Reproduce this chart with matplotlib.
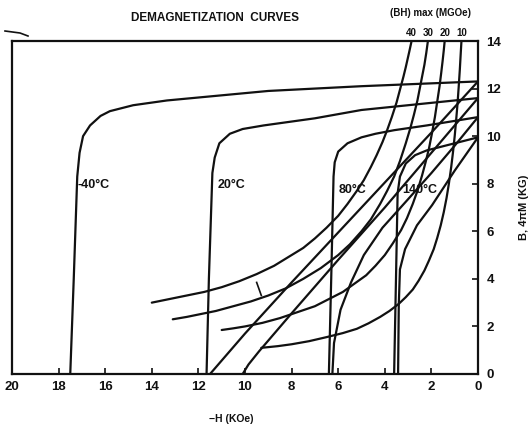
import matplotlib
matplotlib.use('Agg')
import matplotlib.pyplot as plt
from matplotlib.lines import Line2D

# -H (kOe) and B / 4piM (kG)

# intrinsic 4piM curves
m_m40_h = [17.5, 17.35, 17.2, 17.1, 16.95, 16.65, 16.2, 15.8, 14.8, 13.35, 9.0, 5.0, 0.0]
m_m40_b = [0.0, 4.0, 8.3, 9.3, 10.0, 10.45, 10.85, 11.05, 11.3, 11.5, 11.9, 12.1, 12.3]
m_20_h = [11.65, 11.55, 11.4, 11.3, 11.1, 10.65, 10.1, 9.2, 7.0, 5.0, 2.5, 0.0]
m_20_b = [0.0, 4.0, 8.45, 9.1, 9.7, 10.1, 10.3, 10.45, 10.75, 11.1, 11.35, 11.6]
m_80_h = [6.4, 6.3, 6.2, 6.15, 6.0, 5.6, 5.0, 4.4, 3.6, 2.2, 0.0]
m_80_b = [0.0, 4.0, 8.3, 8.9, 9.35, 9.7, 9.95, 10.1, 10.25, 10.45, 10.8]
m_140_h = [3.6, 3.52, 3.45, 3.35, 3.1, 2.7, 2.2, 1.2, 0.0]
m_140_b = [0.0, 4.0, 7.6, 8.3, 8.85, 9.2, 9.4, 9.65, 9.95]

# normal B curves
b_m40_h = [11.5, 10.0, 8.0, 6.0, 4.0, 2.0, 0.0]
b_m40_b = [0.0, 1.7, 3.85, 5.95, 8.05, 10.15, 12.3]
b_20_h = [10.1, 9.85, 9.4, 8.0, 6.0, 4.0, 2.0, 0.0]
b_20_b = [0.0, 0.4, 0.95, 2.55, 4.8, 7.0, 9.3, 11.6]
b_80_h = [6.25, 6.18, 5.9, 5.45, 4.9, 4.1, 3.0, 2.0, 1.0, 0.0]
b_80_b = [0.0, 1.3, 2.7, 3.85, 5.0, 6.15, 7.35, 8.45, 9.6, 10.8]
b_140_h = [3.43, 3.4, 3.35, 3.13, 2.62, 1.97, 1.0, 0.0]
b_140_b = [0.0, 2.9, 4.4, 5.25, 6.25, 7.1, 8.55, 9.95]

# (BH)max lines
bh40_h = [14.0, 13.25, 12.5, 11.75, 11.0, 10.25, 9.5, 8.75, 8.0, 7.5, 7.0, 6.5, 6.0, 5.6,
          5.2, 4.9, 4.6, 4.35, 4.1, 3.9, 3.7, 3.5, 3.35, 3.2, 3.1, 2.95, 2.85]
bh40_b = [3.0, 3.15, 3.3, 3.45, 3.65, 3.9, 4.2, 4.55, 5.0, 5.3, 5.7, 6.15, 6.65, 7.15,
          7.7, 8.15, 8.7, 9.2, 9.75, 10.25, 10.8, 11.4, 11.95, 12.5, 12.9, 13.55, 14.0]
bh30_h = [13.1, 12.5, 12.0, 11.25, 10.5, 9.75, 9.0, 8.25, 7.5, 6.75, 6.0, 5.5, 5.0, 4.6,
          4.2, 3.9, 3.6, 3.35, 3.1, 2.9, 2.75, 2.6, 2.5, 2.4, 2.3, 2.22, 2.15]
bh30_b = [2.3, 2.4, 2.5, 2.65, 2.85, 3.05, 3.3, 3.6, 4.0, 4.45, 5.0, 5.45, 6.0, 6.5,
          7.15, 7.7, 8.3, 8.95, 9.7, 10.35, 10.9, 11.5, 12.0, 12.5, 13.0, 13.5, 14.0]
bh20_h = [11.0, 10.5, 10.0, 9.25, 8.5, 7.75, 7.0, 6.4, 5.8, 5.3, 4.8, 4.4, 4.0, 3.65,
          3.3, 3.05, 2.8, 2.6, 2.4, 2.25, 2.1, 1.97, 1.85, 1.75, 1.65, 1.58, 1.52, 1.47, 1.43]
bh20_b = [1.85, 1.92, 2.0, 2.15, 2.35, 2.6, 2.85, 3.15, 3.45, 3.8, 4.15, 4.55, 5.0, 5.5,
          6.05, 6.55, 7.15, 7.7, 8.35, 8.9, 9.5, 10.15, 10.8, 11.45, 12.1, 12.65, 13.15,
          13.6, 14.0]
bh10_h = [9.3, 8.6, 8.0, 7.25, 6.5, 5.8, 5.2, 4.7, 4.2, 3.8, 3.4, 3.1, 2.8, 2.55, 2.3,
          2.1, 1.9, 1.75, 1.6, 1.47, 1.35, 1.25, 1.15, 1.07, 1.0, 0.94, 0.88, 0.83, 0.78,
          0.74, 0.71]
bh10_b = [1.1, 1.17, 1.25, 1.38, 1.55, 1.72, 1.9, 2.13, 2.4, 2.65, 2.95, 3.23, 3.55, 3.92,
          4.35, 4.78, 5.25, 5.72, 6.25, 6.8, 7.4, 8.0, 8.7, 9.35, 10.0, 10.65, 11.35,
          12.05, 12.8, 13.5, 14.0]

bh_labels = ['40', '30', '20', '10']
bh_label_h = [2.85, 2.15, 1.43, 0.71]

temp_labels = ['-40°C', '20°C', '80°C', '140°C']
temp_label_h = [17.17, 11.16, 5.97, 3.26]
temp_label_b = [7.94, 7.94, 7.73, 7.73]

x_ticks = list(range(0, 21, 2))
y_ticks = list(range(0, 15, 2))

ink = '#111111'
plt.rcParams['font.family'] = ['Liberation Sans', 'DejaVu Sans']

fig = plt.figure(figsize=(5.28, 4.30), dpi=100)
ax = fig.add_axes([12 / 528, 1 - 374 / 430, 466 / 528, 333 / 430])

curves = [
    (m_m40_h, m_m40_b), (m_20_h, m_20_b), (m_80_h, m_80_b), (m_140_h, m_140_b),
    (b_m40_h, b_m40_b), (b_20_h, b_20_b), (b_80_h, b_80_b), (b_140_h, b_140_b),
    (bh40_h, bh40_b), (bh30_h, bh30_b), (bh20_h, bh20_b), (bh10_h, bh10_b),
]
for h, b in curves:
    ax.plot(h, b, color=ink, lw=1.6, solid_joinstyle='round', solid_capstyle='round')

# little pointer mark on the 30 MGOe line
ax.plot([9.5, 9.3], [3.85, 3.3], color=ink, lw=1.2)

ax.set_xlim(20, 0)
ax.set_ylim(0, 14)
for s in ax.spines.values():
    s.set_linewidth(1.6)
    s.set_color(ink)

ax.set_xticks(x_ticks)
ax.set_xticklabels([str(v) for v in x_ticks], fontsize=9.5, fontweight='bold')
ax.yaxis.tick_right()
ax.set_yticks(y_ticks)
ax.set_yticklabels([str(v) for v in y_ticks], fontsize=9.5, fontweight='bold')
ax.tick_params(axis='x', direction='in', length=4, width=1.2, pad=5, colors=ink)
ax.tick_params(axis='y', direction='in', length=4, width=1.2, pad=6, colors=ink)

for lab, h, b in zip(temp_labels, temp_label_h, temp_label_b):
    ax.text(h, b, lab, ha='left', va='center', fontsize=9, fontweight='bold', color=ink)

for lab, h in zip(bh_labels, bh_label_h):
    ax.text(h, 14.35, lab, ha='center', va='center', fontsize=7, fontweight='bold',
            color=ink, clip_on=False)

fig.text(215 / 528, 1 - 18 / 430, 'DEMAGNETIZATION  CURVES', ha='center', va='center',
         fontsize=8.5, fontweight='bold', color=ink)
fig.text(430 / 528, 1 - 13 / 430, '(BH) max (MGOe)', ha='center', va='center',
         fontsize=7, fontweight='bold', color=ink)
fig.text(231 / 528, 1 - 419 / 430, '−H (KOe)', ha='center', va='center',
         fontsize=7.5, fontweight='bold', color=ink)
fig.text(524 / 528, 1 - 207 / 430, 'B, 4πM (KG)', ha='center', va='center',
         rotation=90, fontsize=8, fontweight='bold', color=ink)

# small hook at the top left corner of the frame
fig.add_artist(Line2D([5 / 528, 20 / 528, 28 / 528], [1 - 31 / 430, 1 - 33 / 430, 1 - 36 / 430],
                      color=ink, lw=1.2))

fig.savefig('out.png', dpi=100)
